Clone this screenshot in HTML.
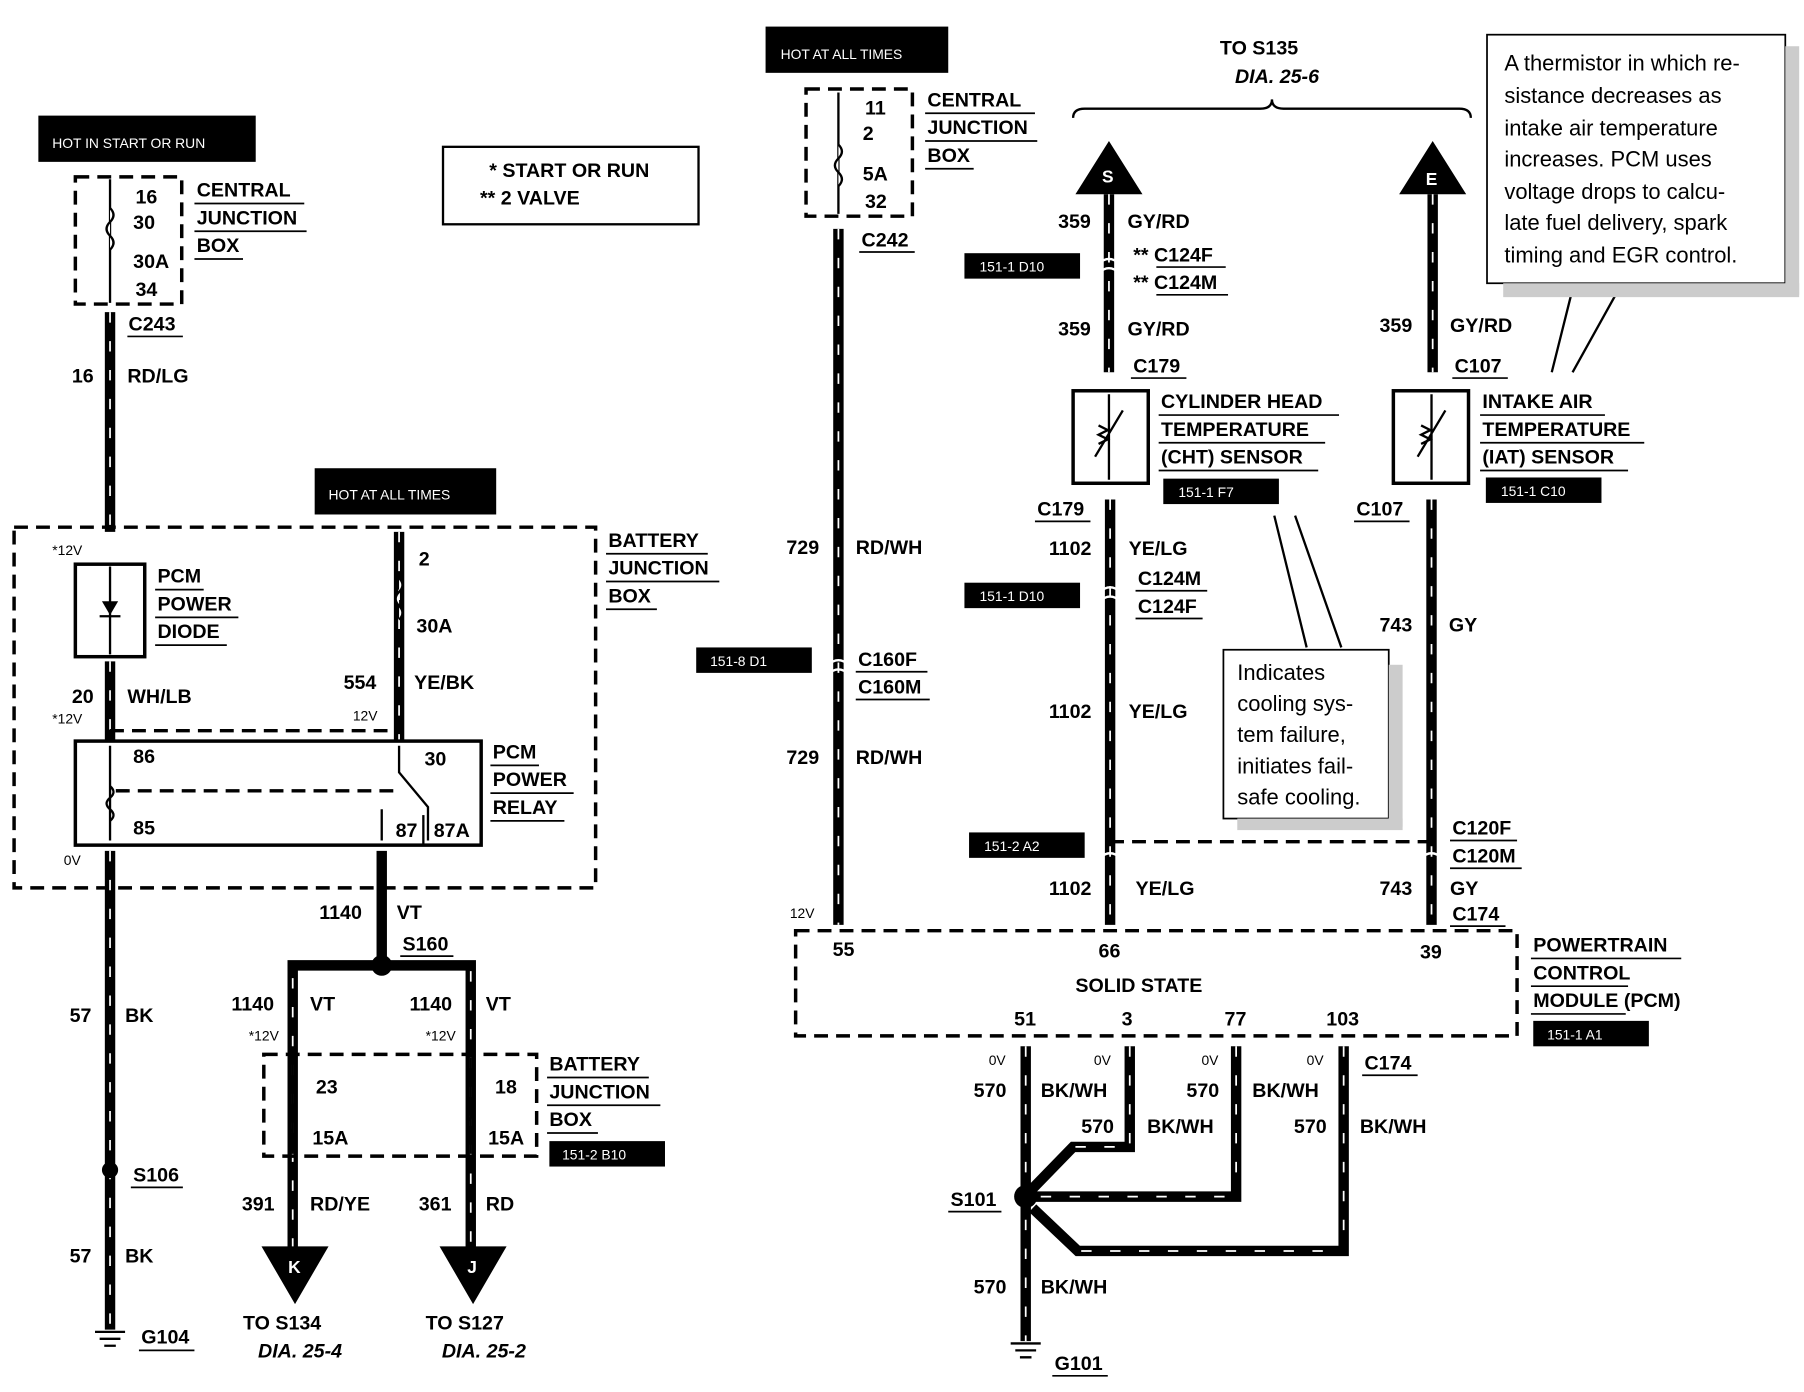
<!DOCTYPE html>
<html><head><meta charset="utf-8"><style>
html,body{margin:0;padding:0;background:#fff}
svg{display:block}
text{font-family:"Liberation Sans",Arial,sans-serif;font-size:17px;font-weight:bold;fill:#000}
.n{font-weight:normal;font-size:19px}
.s{font-size:12px;font-weight:normal}
.w{fill:#fff;font-size:12px;font-weight:normal}
.i{font-style:italic}
.wire{stroke:#000;stroke-width:9;fill:none}
.dash{stroke:#fff;stroke-width:1.5;stroke-dasharray:9 16;fill:none}
.db{stroke:#000;stroke-width:3;stroke-dasharray:12 7;fill:none}
.thin{stroke:#000;stroke-width:2;fill:none}
.u{stroke:#000;stroke-width:1.5}
</style></head><body>
<svg width="1804" height="1392" viewBox="0 0 1560 1204" xmlns="http://www.w3.org/2000/svg">
<rect width="1560" height="1204" fill="#fff"/>

<!-- LEFT -->
<rect x="33" y="100" width="188" height="40" fill="#000"/>
<text x="45" y="128" class="w">HOT IN START OR RUN</text>
<rect x="65" y="153" width="92" height="110" class="db"/>
<path d="M95 155V262" class="thin"/>
<path d="M95 180 q6 6 0 12 q-6 6 0 12 q6 6 0 12" fill="#fff" stroke="#000" stroke-width="2"/>
<text x="117" y="176">16</text><text x="115" y="198">30</text><text x="115" y="232">30A</text><text x="117" y="256">34</text>
<text x="170" y="170">CENTRAL</text><text x="170" y="194">JUNCTION</text><text x="170" y="218">BOX</text>
<path d="M168 176h95M168 200h97M168 224h42" class="u"/>
<text x="111" y="286">C243</text><path d="M110 291h48" class="u"/>
<path d="M95 270V460" class="wire"/><path d="M95 270V460" class="dash"/>
<text x="62" y="331">16</text><text x="110" y="331">RD/LG</text>
<rect x="383" y="127" width="221" height="67" fill="none" stroke="#000" stroke-width="2"/>
<text x="423" y="153">* START OR RUN</text><text x="415" y="177">** 2 VALVE</text>

<rect x="12" y="456" width="503" height="312" class="db"/>
<rect x="272" y="405" width="157" height="40" fill="#000"/>
<text x="284" y="432" class="w">HOT AT ALL TIMES</text>
<text x="526" y="473">BATTERY</text><text x="526" y="497">JUNCTION</text><text x="526" y="521">BOX</text>
<path d="M524 479h88M524 503h98M524 527h44" class="u"/>
<text x="45" y="480" class="s">*12V</text>
<rect x="65" y="488" width="60" height="80" fill="none" stroke="#000" stroke-width="3"/>
<path d="M95 490V566" class="thin"/><path d="M88 520h14l-7 12z" fill="#000"/><path d="M86 533h18" class="thin"/>
<text x="136" y="504">PCM</text><text x="136" y="528">POWER</text><text x="136" y="552">DIODE</text>
<path d="M134 510h42M134 534h72M134 558h62" class="u"/>
<path d="M95 572V640" class="wire"/><path d="M95 572V640" class="dash"/>
<text x="62" y="608">20</text><text x="110" y="608">WH/LB</text><text x="45" y="626" class="s">*12V</text>
<path d="M345 460V640" class="wire"/><path d="M345 460V640" class="dash"/>
<path d="M345 500 q6 6 0 12 q-6 6 0 12 q6 6 0 12" fill="#fff" stroke="#000" stroke-width="2"/>
<text x="362" y="489">2</text><text x="360" y="547">30A</text><text x="297" y="596">554</text><text x="358" y="596">YE/BK</text><text x="305" y="623" class="s">12V</text>
<path d="M95 632H345" class="db" stroke-width="2"/>
<rect x="65" y="641" width="351" height="90" fill="none" stroke="#000" stroke-width="3"/>
<path d="M95 645V727M345 645V668l25 30V727M330 700V727" class="thin"/>
<path d="M95 680 q6 5 0 10 q-6 5 0 10 q6 5 0 10" fill="none" stroke="#000" stroke-width="2"/>
<path d="M100 684H345" class="db" stroke-width="2"/>
<text x="115" y="660">86</text><text x="115" y="722">85</text><text x="367" y="662">30</text><text x="342" y="724">87</text><text x="375" y="724">87A</text>
<path d="M366 705V731" class="thin"/>
<text x="426" y="656">PCM</text><text x="426" y="680">POWER</text><text x="426" y="704">RELAY</text>
<path d="M424 662h42M424 686h72M424 710h64" class="u"/>
<text x="55" y="748" class="s">0V</text>
<path d="M95 736V1150" class="wire"/><path d="M95 736V1150" class="dash"/>
<text x="60" y="884">57</text><text x="108" y="884">BK</text>
<circle cx="95" cy="1012" r="7"/><text x="115" y="1022">S106</text><path d="M113 1027h45" class="u"/>
<text x="60" y="1092">57</text><text x="108" y="1092">BK</text>
<path d="M82 1152h26M86 1158h18M90 1164h10" class="thin"/>
<text x="122" y="1162">G104</text><path d="M120 1168h48" class="u"/>
<path d="M330 736V835" class="wire"/>
<text x="276" y="795">1140</text><text x="343" y="795">VT</text>
<text x="348" y="822">S160</text><path d="M346 827h46" class="u"/>
<path d="M253 1080V835H407V1080" class="wire"/><path d="M253 1080V840M407 840V1080" class="dash"/>
<circle cx="330" cy="835" r="9"/>
<text x="200" y="874">1140</text><text x="268" y="874">VT</text><text x="354" y="874">1140</text><text x="420" y="874">VT</text>
<text x="215" y="900" class="s">*12V</text><text x="368" y="900" class="s">*12V</text>
<rect x="228" y="912" width="236" height="88" class="db" fill="#fff"/>
<path d="M253 915V998M407 915V998" class="thin"/>
<path d="M253 955 q6 6 0 12 q-6 6 0 12 M407 955 q6 6 0 12 q-6 6 0 12" fill="none" stroke="#000" stroke-width="2"/>
<text x="273" y="946">23</text><text x="270" y="990">15A</text><text x="428" y="946">18</text><text x="422" y="990">15A</text>
<text x="475" y="926">BATTERY</text><text x="475" y="950">JUNCTION</text><text x="475" y="974">BOX</text>
<path d="M473 932h88M473 956h98M473 980h44" class="u"/>
<rect x="475" y="987" width="100" height="22" fill="#000"/><text x="486" y="1003" class="w">151-2 B10</text>
<text x="209" y="1047">391</text><text x="268" y="1047">RD/YE</text><text x="362" y="1047">361</text><text x="420" y="1047">RD</text>
<path d="M226 1078h58l-29 50z M380 1078h58l-29 50z" fill="#000"/>
<text x="249" y="1101" class="w" style="font-size:15px;font-weight:bold">K</text><text x="404" y="1101" class="w" style="font-size:15px;font-weight:bold">J</text>
<text x="210" y="1150">TO S134</text><text x="223" y="1174" class="i">DIA. 25-4</text>
<text x="368" y="1150">TO S127</text><text x="382" y="1174" class="i">DIA. 25-2</text>

<!-- MIDDLE -->
<rect x="662" y="23" width="158" height="40" fill="#000"/>
<text x="675" y="51" class="w">HOT AT ALL TIMES</text>
<rect x="697" y="77" width="92" height="110" class="db"/>
<path d="M725 80V185" class="thin"/>
<path d="M725 125 q6 6 0 12 q-6 6 0 12 q6 6 0 12" fill="#fff" stroke="#000" stroke-width="2"/>
<text x="748" y="99">11</text><text x="746" y="121">2</text><text x="746" y="156">5A</text><text x="748" y="180">32</text>
<text x="802" y="92">CENTRAL</text><text x="802" y="116">JUNCTION</text><text x="802" y="140">BOX</text>
<path d="M800 98h95M800 122h97M800 146h42" class="u"/>
<text x="745" y="213">C242</text><path d="M743 218h48" class="u"/>
<path d="M725 198V800" class="wire"/><path d="M725 198V800" class="dash"/>
<text x="680" y="479">729</text><text x="740" y="479">RD/WH</text>
<text x="680" y="661">729</text><text x="740" y="661">RD/WH</text>
<rect x="602" y="560" width="100" height="22" fill="#000"/><text x="614" y="576" class="w">151-8 D1</text>
<text x="742" y="576">C160F</text><text x="742" y="600">C160M</text><path d="M740 581h62M740 605h64" class="u"/>
<path d="M716 575q9 -8 18 0M716 583q9 -8 18 0" fill="none" stroke="#fff" stroke-width="2"/>
<text x="683" y="794" class="s">12V</text>

<rect x="688" y="805" width="624" height="91" class="db"/>
<text x="720" y="827">55</text><text x="950" y="828">66</text><text x="1228" y="829">39</text>
<text x="930" y="858">SOLID STATE</text>
<text x="1326" y="823">POWERTRAIN</text><text x="1326" y="847">CONTROL</text><text x="1326" y="871">MODULE (PCM)</text>
<path d="M1324 829h130M1324 853h84M1324 877h82" class="u"/>
<rect x="1326" y="883" width="100" height="22" fill="#000"/><text x="1338" y="899" class="w">151-1 A1</text>
<text x="877" y="887">51</text><text x="970" y="887">3</text><text x="1059" y="887">77</text><text x="1147" y="887">103</text>

<path d="M887 905V1160M977 905V992H928L893 1028M1069 905V1035H895M1162 905V1082H932L893 1045" class="wire" stroke-linejoin="miter"/>
<path d="M887 905V1160M977 905V990M1069 905V1030M1162 905V1078M930 992H975M900 1035H1065M935 1082H1158" class="dash"/>
<circle cx="887" cy="1035" r="10"/>
<text x="855" y="921" class="s">0V</text><text x="946" y="921" class="s">0V</text><text x="1039" y="921" class="s">0V</text><text x="1130" y="921" class="s">0V</text>
<text x="1180" y="925">C174</text><path d="M1178 930h48" class="u"/>
<text x="842" y="949">570</text><text x="900" y="949">BK/WH</text><text x="935" y="980">570</text><text x="992" y="980">BK/WH</text>
<text x="1026" y="949">570</text><text x="1083" y="949">BK/WH</text><text x="1119" y="980">570</text><text x="1176" y="980">BK/WH</text>
<text x="822" y="1043">S101</text><path d="M820 1048h46" class="u"/>
<text x="842" y="1119">570</text><text x="900" y="1119">BK/WH</text>
<path d="M874 1162h26M878 1168h18M882 1174h10" class="thin"/>
<text x="912" y="1185">G101</text><path d="M910 1190h48" class="u"/>

<!-- RIGHT -->
<text x="1055" y="47">TO S135</text><text x="1068" y="72" class="i">DIA. 25-6</text>
<path d="M928 102q0 -8 10 -8H1090q10 0 10 -8q0 8 10 8H1262q10 0 10 8" class="thin"/>
<path d="M930 168h58l-29 -46z M1210 168h58l-29 -46z" fill="#000"/>
<text x="953" y="158" class="w" style="font-size:15px;font-weight:bold">S</text><text x="1233" y="160" class="w" style="font-size:15px;font-weight:bold">E</text>
<path d="M959 168V322" class="wire"/><path d="M959 168V322" class="dash"/>
<path d="M950 228q9 -8 18 0M950 236q9 -8 18 0" fill="none" stroke="#fff" stroke-width="2"/>
<text x="915" y="197">359</text><text x="975" y="197">GY/RD</text>
<text x="980" y="226">** C124F</text><text x="980" y="250">** C124M</text><path d="M1000 231h60M1000 255h62" class="u"/>
<rect x="834" y="219" width="100" height="22" fill="#000"/><text x="847" y="235" class="w">151-1 D10</text>
<text x="915" y="290">359</text><text x="975" y="290">GY/RD</text>
<text x="980" y="322">C179</text><path d="M978 327h48" class="u"/>
<rect x="928" y="338" width="65" height="80" fill="none" stroke="#000" stroke-width="3"/>
<path d="M959 341V415M947 395l24 -40" class="thin"/><path d="M950 368l8 4l-8 4l8 4l-8 4" class="thin"/>
<text x="1004" y="353">CYLINDER HEAD</text><text x="1004" y="377">TEMPERATURE</text><text x="1004" y="401">(CHT) SENSOR</text>
<path d="M1002 359h156M1002 383h144M1002 407h138" class="u"/>
<rect x="1006" y="414" width="100" height="22" fill="#000"/><text x="1019" y="430" class="w">151-1 F7</text>
<text x="897" y="446">C179</text><path d="M895 451h48" class="u"/>
<path d="M960 432V800" class="wire"/><path d="M960 432V800" class="dash"/>
<path d="M951 512q9 -8 18 0M951 520q9 -8 18 0M951 742q9 -8 18 0" fill="none" stroke="#fff" stroke-width="2"/>
<text x="907" y="480">1102</text><text x="976" y="480">YE/LG</text>
<rect x="834" y="504" width="100" height="22" fill="#000"/><text x="847" y="520" class="w">151-1 D10</text>
<text x="984" y="506">C124M</text><text x="984" y="530">C124F</text><path d="M982 511h62M982 535h58" class="u"/>
<text x="907" y="621">1102</text><text x="976" y="621">YE/LG</text>
<rect x="838" y="720" width="100" height="22" fill="#000"/><text x="851" y="736" class="w">151-2 A2</text>
<path d="M960 728H1238" class="db" stroke-width="2"/>
<text x="907" y="774">1102</text><text x="982" y="774">YE/LG</text>

<path d="M1239 168V322" class="wire"/><path d="M1239 168V322" class="dash"/>
<text x="1193" y="287">359</text><text x="1254" y="287">GY/RD</text>
<text x="1258" y="322">C107</text><path d="M1256 327h48" class="u"/>
<rect x="1205" y="338" width="65" height="80" fill="none" stroke="#000" stroke-width="3"/>
<path d="M1238 341V415M1226 395l24 -40" class="thin"/><path d="M1229 368l8 4l-8 4l8 4l-8 4" class="thin"/>
<text x="1282" y="353">INTAKE AIR</text><text x="1282" y="377">TEMPERATURE</text><text x="1282" y="401">(IAT) SENSOR</text>
<path d="M1280 359h108M1280 383h142M1280 407h128" class="u"/>
<rect x="1285" y="413" width="100" height="22" fill="#000"/><text x="1298" y="429" class="w">151-1 C10</text>
<text x="1173" y="446">C107</text><path d="M1171 451h48" class="u"/>
<path d="M1238 432V800" class="wire"/><path d="M1238 432V800" class="dash"/>
<path d="M1229 742q9 -8 18 0" fill="none" stroke="#fff" stroke-width="2"/>
<text x="1193" y="546">743</text><text x="1253" y="546">GY</text>
<text x="1256" y="722">C120F</text><text x="1256" y="746">C120M</text><path d="M1254 727h58M1254 751h62" class="u"/>
<text x="1193" y="774">743</text><text x="1254" y="774">GY</text>
<text x="1256" y="796">C174</text><path d="M1254 801h48" class="u"/>

<!-- callouts -->
<path d="M1102 446L1130 560M1120 446L1160 560" class="thin" stroke-width="1"/>
<rect x="1058" y="562" width="143" height="146" fill="#fff" stroke="#000" stroke-width="1.5"/>
<rect x="1201" y="575" width="12" height="140" fill="#ccc"/><rect x="1070" y="708" width="143" height="10" fill="#ccc"/>
<text x="1070" y="588" class="n">Indicates</text><text x="1070" y="615" class="n">cooling sys-</text><text x="1070" y="642" class="n">tem failure,</text><text x="1070" y="669" class="n">initiates fail-</text><text x="1070" y="696" class="n">safe cooling.</text>
<path d="M1342 322L1360 250M1360 322L1400 250" class="thin" stroke-width="1"/>
<rect x="1286" y="30" width="258" height="215" fill="#fff" stroke="#000" stroke-width="1.5"/>
<rect x="1544" y="40" width="12" height="215" fill="#ccc"/><rect x="1300" y="245" width="256" height="12" fill="#ccc"/>
<text x="1301" y="61" class="n">A thermistor in which re-</text>
<text x="1301" y="89" class="n">sistance decreases as</text>
<text x="1301" y="117" class="n">intake air temperature</text>
<text x="1301" y="144" class="n">increases.  PCM uses</text>
<text x="1301" y="172" class="n">voltage drops to calcu-</text>
<text x="1301" y="199" class="n">late fuel delivery, spark</text>
<text x="1301" y="227" class="n">timing and EGR control.</text>
</svg>
</body></html>
